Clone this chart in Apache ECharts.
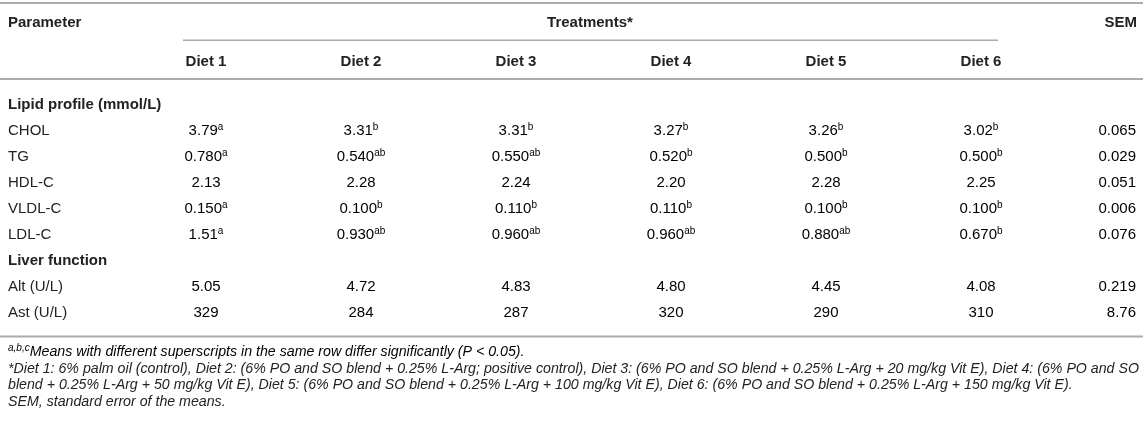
<!DOCTYPE html>
<html>
<head>
<meta charset="utf-8">
<script src="https://cdn.jsdelivr.net/npm/echarts@6/dist/echarts.min.js"></script>
<style>html,body{margin:0;padding:0;background:#fff}#main{width:1143px;height:426px}</style>
</head>
<body>
<div id="main"></div>
<script>
// 列：6个日粮 + SEM
var columns = ['Diet 1', 'Diet 2', 'Diet 3', 'Diet 4', 'Diet 5', 'Diet 6', 'SEM'];
// 行：参数名称（分组标题加粗）
var rows = ['Lipid profile (mmol/L)', 'CHOL', 'TG', 'HDL-C', 'VLDL-C', 'LDL-C', 'Liver function', 'Alt (U/L)', 'Ast (U/L)'];
var sectionRows = ['Lipid profile (mmol/L)', 'Liver function'];

// 数值（保留原表小数位）和上标
var chol = ['3.79', '3.31', '3.31', '3.27', '3.26', '3.02', '0.065'];
var cholSup = ['a', 'b', 'b', 'b', 'b', 'b', ''];
var tg = ['0.780', '0.540', '0.550', '0.520', '0.500', '0.500', '0.029'];
var tgSup = ['a', 'ab', 'ab', 'b', 'b', 'b', ''];
var hdl = ['2.13', '2.28', '2.24', '2.20', '2.28', '2.25', '0.051'];
var hdlSup = ['', '', '', '', '', '', ''];
var vldl = ['0.150', '0.100', '0.110', '0.110', '0.100', '0.100', '0.006'];
var vldlSup = ['a', 'b', 'b', 'b', 'b', 'b', ''];
var ldl = ['1.51', '0.930', '0.960', '0.960', '0.880', '0.670', '0.076'];
var ldlSup = ['a', 'ab', 'ab', 'ab', 'ab', 'b', ''];
var alt = ['5.05', '4.72', '4.83', '4.80', '4.45', '4.08', '0.219'];
var altSup = ['', '', '', '', '', '', ''];
var ast = ['329', '284', '287', '320', '290', '310', '8.76'];
var astSup = ['', '', '', '', '', '', ''];

var tableRows = [
    ['CHOL', chol, cholSup],
    ['TG', tg, tgSup],
    ['HDL-C', hdl, hdlSup],
    ['VLDL-C', vldl, vldlSup],
    ['LDL-C', ldl, ldlSup],
    ['Alt (U/L)', alt, altSup],
    ['Ast (U/L)', ast, astSup]
];

// 单元格数据 [列序号, 行序号, 数值, 上标]
var cells = [];
tableRows.forEach(function(r) {
    var ri = rows.indexOf(r[0]);
    r[1].forEach(function(v, ci) {
        cells.push([ci, ri, v, r[2][ci]]);
    });
});

var font = '"Liberation Sans", Arial, Helvetica, sans-serif';
var txtColor = '#222';
var lineColor = '#aaa';
var noteFont = 'italic 14.2px ' + font;

var myChart = echarts.init(document.getElementById('main'));

var option = {
    backgroundColor: '#fff',
    animation: false,
    grid: {
        left: 206,
        right: 7,
        top: 92,
        height: 234
    },
    xAxis: {
        type: 'category',
        data: columns,
        position: 'top',
        boundaryGap: false,
        axisLine: { show: false },
        axisTick: { show: false },
        splitLine: { show: false },
        axisLabel: {
            interval: 0,
            margin: 23,
            fontFamily: font,
            fontSize: 15,
            fontWeight: 'bold',
            color: txtColor,
            formatter: function(v) {
                return v === 'SEM' ? '' : v;
            }
        }
    },
    yAxis: {
        type: 'category',
        data: rows,
        inverse: true,
        axisLine: { show: false },
        axisTick: { show: false },
        splitLine: { show: false },
        axisLabel: {
            interval: 0,
            align: 'left',
            margin: 198,
            formatter: function(v) {
                return sectionRows.indexOf(v) >= 0 ? '{b|' + v + '}' : '{n|' + v + '}';
            },
            rich: {
                b: { fontFamily: font, fontSize: 15, fontWeight: 'bold', color: txtColor },
                n: { fontFamily: font, fontSize: 15, color: txtColor }
            }
        }
    },
    series: [{
        type: 'custom',
        coordinateSystem: 'cartesian2d',
        encode: { x: 0, y: 1 },
        data: cells,
        renderItem: function(params, api) {
            var d = cells[params.dataIndex];
            var p = api.coord([api.value(0), api.value(1)]);
            var t = '{v|' + d[2] + '}' + (d[3] ? '{s|' + d[3] + '}' : '');
            return {
                type: 'text',
                x: p[0],
                y: p[1],
                style: {
                    text: t,
                    align: d[0] === 6 ? 'right' : 'center',
                    verticalAlign: 'middle',
                    rich: {
                        v: { fontFamily: font, fontSize: 15, color: txtColor, lineHeight: 18 },
                        s: { fontFamily: font, fontSize: 10, color: txtColor, lineHeight: 18, verticalAlign: 'top' }
                    }
                }
            };
        }
    }],
    // 表格线与表头、脚注
    graphic: [
        { type: 'rect', shape: { x: 0, y: 2, width: 1143, height: 2 }, style: { fill: lineColor } },
        { type: 'rect', shape: { x: 183, y: 39.5, width: 815, height: 1.5 }, style: { fill: lineColor } },
        { type: 'rect', shape: { x: 0, y: 78, width: 1143, height: 2 }, style: { fill: lineColor } },
        { type: 'rect', shape: { x: 0, y: 335.5, width: 1143, height: 2 }, style: { fill: lineColor } },
        { type: 'text', x: 8, y: 23, style: { text: 'Parameter', font: 'bold 15px ' + font, fill: txtColor, verticalAlign: 'middle' } },
        { type: 'text', x: 590, y: 23, style: { text: 'Treatments*', font: 'bold 15px ' + font, fill: txtColor, align: 'center', verticalAlign: 'middle' } },
        { type: 'text', x: 1137, y: 23, style: { text: 'SEM', font: 'bold 15px ' + font, fill: txtColor, align: 'right', verticalAlign: 'middle' } },
        {
            type: 'text', x: 8, y: 352,
            style: {
                text: '{s|a,b,c}{t|Means with different superscripts in the same row differ significantly (P < 0.05).}',
                verticalAlign: 'middle',
                rich: {
                    s: { fontFamily: font, fontSize: 10, fontStyle: 'italic', color: txtColor, lineHeight: 17, verticalAlign: 'top' },
                    t: { fontFamily: font, fontSize: 14.2, fontStyle: 'italic', color: txtColor, lineHeight: 17 }
                }
            }
        },
        { type: 'text', x: 8, y: 369, style: { text: '*Diet 1: 6% palm oil (control), Diet 2: (6% PO and SO blend + 0.25% L-Arg; positive control), Diet 3: (6% PO and SO blend + 0.25% L-Arg + 20 mg/kg Vit E), Diet 4: (6% PO and SO', font: noteFont, fill: txtColor, verticalAlign: 'middle' } },
        { type: 'text', x: 8, y: 385.5, style: { text: 'blend + 0.25% L-Arg + 50 mg/kg Vit E), Diet 5: (6% PO and SO blend + 0.25% L-Arg + 100 mg/kg Vit E), Diet 6: (6% PO and SO blend + 0.25% L-Arg + 150 mg/kg Vit E).', font: noteFont, fill: txtColor, verticalAlign: 'middle' } },
        { type: 'text', x: 8, y: 402, style: { text: 'SEM, standard error of the means.', font: noteFont, fill: txtColor, verticalAlign: 'middle' } }
    ]
};

myChart.setOption(option);
</script>
</body>
</html>
